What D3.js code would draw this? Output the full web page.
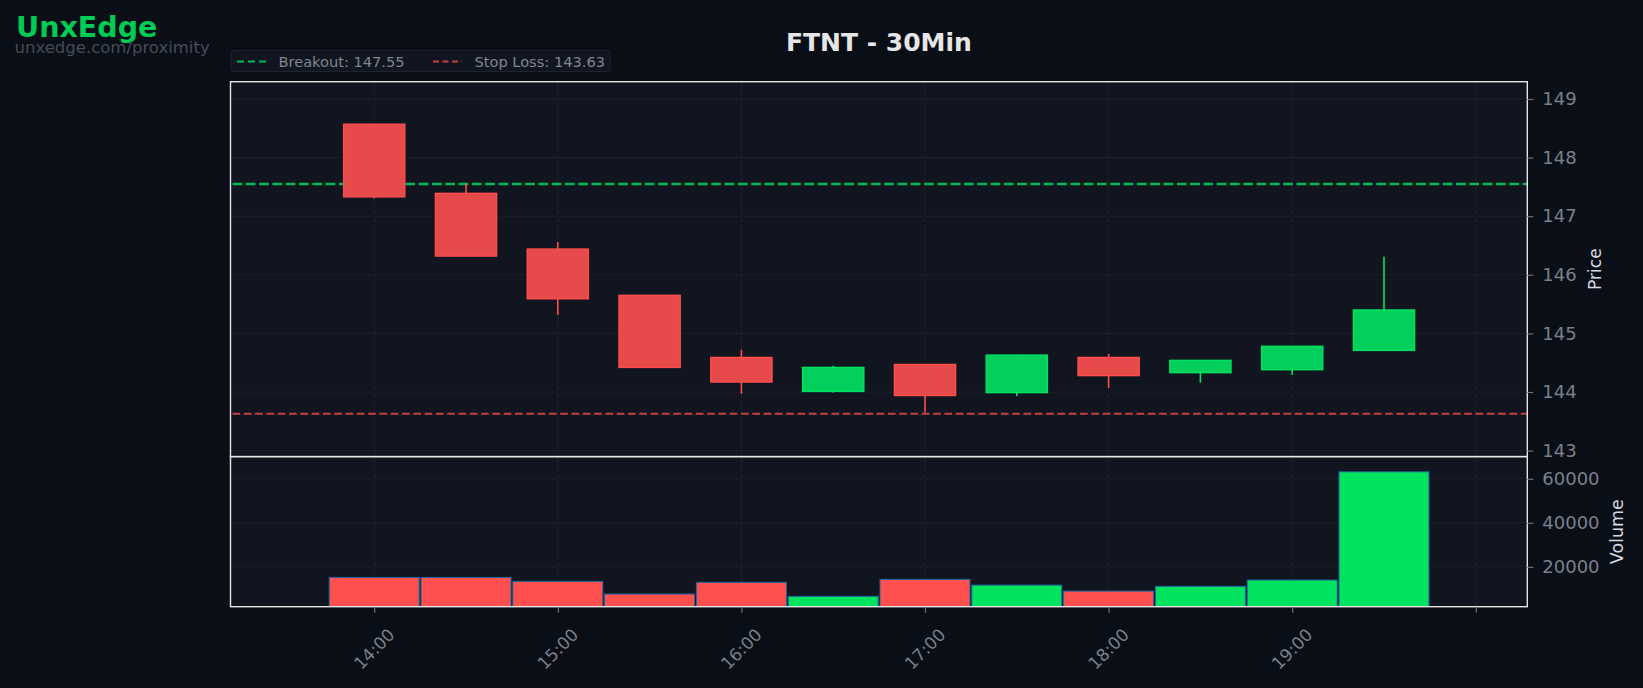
<!DOCTYPE html>
<html>
<head>
<meta charset="utf-8">
<script src="https://cdn.jsdelivr.net/npm/d3@7"></script>
<style>
  html, body { margin: 0; padding: 0; background: #0a0e16; }
  svg { display: block; font-family: "DejaVu Sans", sans-serif; }
</style>
</head>
<body>
<div id="chart"></div>
<script>
// Chart data (30 minute candles)
const times   = ["14:00", "14:30", "15:00", "15:30", "16:00", "16:30", "17:00", "17:30", "18:00", "18:30", "19:00", "19:30"];
const opens   = [148.57, 147.39, 146.44, 145.65, 144.59, 144.01, 144.47, 143.99, 144.59, 144.33, 144.38, 144.71];
const highs   = [148.57, 147.55, 146.56, 145.65, 144.72, 144.45, 144.47, 144.63, 144.65, 144.54, 144.78, 146.31];
const lows    = [147.30, 146.32, 145.32, 144.42, 143.97, 143.99, 143.65, 143.93, 144.07, 144.16, 144.29, 144.71];
const closes  = [147.33, 146.32, 145.59, 144.42, 144.17, 144.42, 143.94, 144.63, 144.28, 144.54, 144.78, 145.40];
const volumes = [15200, 15200, 13400, 7650, 12950, 6600, 14300, 11700, 9000, 11150, 14000, 63150];

const xTickTimes  = ["14:00", "15:00", "16:00", "17:00", "18:00", "19:00", "20:00"];
const xTickLabels = ["14:00", "15:00", "16:00", "17:00", "18:00", "19:00"];
const priceTicks  = [143, 144, 145, 146, 147, 148, 149];
const volumeTicks = [20000, 40000, 60000];

const breakout = 147.55, stopLoss = 143.63;

// Layout
const width = 1643, height = 688;
const left = 230.5, right = 1527.3;
const priceTop = 81.7, split = 456.6, volBottom = 606.7;

const parseT = s => { const [h, m] = s.split(":").map(Number); return new Date(2024, 0, 2, h, m); };

const x = d3.scaleTime()
    .domain([new Date(2024, 0, 2, 13, 13, 2), new Date(2024, 0, 2, 20, 16, 50)])
    .range([left, right]);
const yPrice = d3.scaleLinear().domain([142.898, 149.295]).range([split, priceTop]);
const yVol = d3.scaleLinear().domain([1900, 70090]).range([volBottom, split]);

const up = "#00e35f", down = "#ff4d4d";
const grid = "#20252f", tickCol = "#6c717c", labelCol = "#7b808c";

const svg = d3.select("#chart").append("svg")
    .attr("width", width).attr("height", height);

svg.append("rect").attr("width", width).attr("height", height).attr("fill", "#0a0e16");

// Panel backgrounds
svg.append("rect").attr("x", left).attr("y", priceTop).attr("width", right - left)
    .attr("height", split - priceTop).attr("fill", "#11151f");
svg.append("rect").attr("x", left).attr("y", split).attr("width", right - left)
    .attr("height", volBottom - split).attr("fill", "#11151f");

svg.append("clipPath").attr("id", "clipP").append("rect")
    .attr("x", left).attr("y", priceTop).attr("width", right - left).attr("height", split - priceTop);
svg.append("clipPath").attr("id", "clipV").append("rect")
    .attr("x", left).attr("y", split).attr("width", right - left).attr("height", volBottom - split);

// Grid lines
const g = svg.append("g");
xTickTimes.forEach(t => {
    g.append("line").attr("x1", x(parseT(t))).attr("x2", x(parseT(t)))
        .attr("y1", priceTop).attr("y2", volBottom)
        .attr("stroke", grid).attr("stroke-width", 1).attr("stroke-dasharray", "5,3");
});
priceTicks.forEach(p => {
    g.append("line").attr("x1", left).attr("x2", right).attr("y1", yPrice(p)).attr("y2", yPrice(p))
        .attr("stroke", grid).attr("stroke-width", 1).attr("stroke-dasharray", "5,3");
});
volumeTicks.forEach(v => {
    g.append("line").attr("x1", left).attr("x2", right).attr("y1", yVol(v)).attr("y2", yVol(v))
        .attr("stroke", grid).attr("stroke-width", 1).attr("stroke-dasharray", "5,3");
});

// Level lines
const levels = svg.append("g").attr("clip-path", "url(#clipP)");
levels.append("line").attr("x1", left + 2).attr("x2", right)
    .attr("y1", yPrice(breakout)).attr("y2", yPrice(breakout))
    .attr("stroke", "#00bb55").attr("stroke-width", 2.5).attr("stroke-dasharray", "9.7,3.6");
levels.append("line").attr("x1", left + 2).attr("x2", right)
    .attr("y1", yPrice(stopLoss)).attr("y2", yPrice(stopLoss))
    .attr("stroke", "#c63f42").attr("stroke-width", 2).attr("stroke-dasharray", "7.7,3.6");

// Candles
const candles = times.map((t, i) => ({
    t: parseT(t), o: opens[i], h: highs[i], l: lows[i], c: closes[i], v: volumes[i]
}));
const halfBody = 10 * 60 * 1000;   // 20 minute bodies
const halfBar = 14.7 * 60 * 1000;  // volume bars nearly fill the slot

const cg = svg.append("g").attr("clip-path", "url(#clipP)");
cg.selectAll("line.wick").data(candles).enter().append("line")
    .attr("x1", d => x(d.t)).attr("x2", d => x(d.t))
    .attr("y1", d => yPrice(d.h)).attr("y2", d => yPrice(d.l))
    .attr("stroke", d => d.c >= d.o ? up : down).attr("stroke-width", 1.6);
cg.selectAll("rect.body").data(candles).enter().append("rect")
    .attr("x", d => x(new Date(+d.t - halfBody)))
    .attr("width", d => x(new Date(+d.t + halfBody)) - x(new Date(+d.t - halfBody)))
    .attr("y", d => yPrice(Math.max(d.o, d.c)))
    .attr("height", d => Math.abs(yPrice(d.o) - yPrice(d.c)))
    .attr("fill", d => d.c >= d.o ? "#02cf5c" : "#e64a4a")
    .attr("stroke", d => d.c >= d.o ? up : down).attr("stroke-width", 1.4);

// Volume bars
const vg = svg.append("g").attr("clip-path", "url(#clipV)");
vg.selectAll("rect").data(candles).enter().append("rect")
    .attr("x", d => x(new Date(+d.t - halfBar)))
    .attr("width", d => x(new Date(+d.t + halfBar)) - x(new Date(+d.t - halfBar)))
    .attr("y", d => yVol(d.v))
    .attr("height", d => yVol(0) - yVol(d.v))
    .attr("fill", d => d.c >= d.o ? up : "#ff4f4f")
    .attr("stroke", "#1f6aa0").attr("stroke-width", 1);

// Panel borders
[[priceTop, split], [split, volBottom]].forEach(([a, b]) => {
    svg.append("rect").attr("x", left).attr("y", a).attr("width", right - left).attr("height", b - a)
        .attr("fill", "none").attr("stroke", "#e6e6e6").attr("stroke-width", 1.4);
});

// Right axes
const priceAxis = d3.axisRight(yPrice).tickValues(priceTicks).tickFormat(d3.format("d"))
    .tickSize(6).tickPadding(9);
const pa = svg.append("g").attr("transform", `translate(${right},0)`).call(priceAxis);
const volAxis = d3.axisRight(yVol).tickValues(volumeTicks).tickFormat(d3.format("d"))
    .tickSize(6).tickPadding(9);
const va = svg.append("g").attr("transform", `translate(${right},0)`).call(volAxis);
[pa, va].forEach(a => {
    a.select(".domain").remove();
    a.selectAll(".tick line").attr("stroke", tickCol).attr("stroke-width", 1.2);
    a.selectAll(".tick text").attr("fill", labelCol).style("font-size", "18px")
        .style("font-family", "DejaVu Sans");
});

// Bottom time axis
const xa = svg.append("g").attr("transform", `translate(0,${volBottom})`)
    .call(d3.axisBottom(x).tickValues(xTickTimes.map(parseT)).tickSize(6).tickFormat(""));
xa.select(".domain").remove();
xa.selectAll(".tick line").attr("stroke", tickCol).attr("stroke-width", 1.2);
xTickLabels.forEach(t => {
    const px = x(parseT(t)), py = 649;
    svg.append("text").attr("x", px).attr("y", py)
        .attr("transform", `rotate(-45,${px},${py})`)
        .attr("text-anchor", "middle").attr("dominant-baseline", "central")
        .attr("fill", labelCol).style("font-size", "17px").text(t);
});

// Axis titles
svg.append("text").attr("transform", `translate(1601,${(priceTop + split) / 2}) rotate(-90)`)
    .attr("text-anchor", "middle").attr("fill", "#d6d9e0").style("font-size", "17px").text("Price");
svg.append("text").attr("transform", `translate(1623,${(split + volBottom) / 2}) rotate(-90)`)
    .attr("text-anchor", "middle").attr("fill", "#d6d9e0").style("font-size", "17.5px").text("Volume");

// Title and branding
svg.append("text").attr("x", (left + right) / 2).attr("y", 51)
    .attr("text-anchor", "middle").attr("fill", "#e6e6e6")
    .style("font-size", "25px").style("font-weight", "bold").text("FTNT - 30Min");
svg.append("text").attr("x", 16).attr("y", 37).attr("fill", "#00cc55")
    .style("font-size", "28.5px").style("font-weight", "bold").text("UnxEdge");
svg.append("text").attr("x", 14.5).attr("y", 52.5).attr("fill", "#464c59")
    .style("font-size", "16.5px").text("unxedge.com/proximity");

// Legend
const lg = svg.append("g");
lg.append("rect").attr("x", 231).attr("y", 50.5).attr("width", 379).attr("height", 21).attr("rx", 3)
    .attr("fill", "#111520").attr("stroke", "#1e2330");
const legendItems = [
    { label: `Breakout: ${breakout.toFixed(2)}`, color: "#00bb55", x: 237, dash: "7,4", w: 2.2 },
    { label: `Stop Loss: ${stopLoss.toFixed(2)}`, color: "#c63f42", x: 433, dash: "6,3.5", w: 1.8 }
];
legendItems.forEach(it => {
    lg.append("line").attr("x1", it.x).attr("x2", it.x + 29).attr("y1", 61.5).attr("y2", 61.5)
        .attr("stroke", it.color).attr("stroke-width", it.w).attr("stroke-dasharray", it.dash);
    lg.append("text").attr("x", it.x + 41.5).attr("y", 61.5).attr("dominant-baseline", "central")
        .attr("fill", "#80858f").style("font-size", "14.6px").text(it.label);
});
</script>
</body>
</html>
